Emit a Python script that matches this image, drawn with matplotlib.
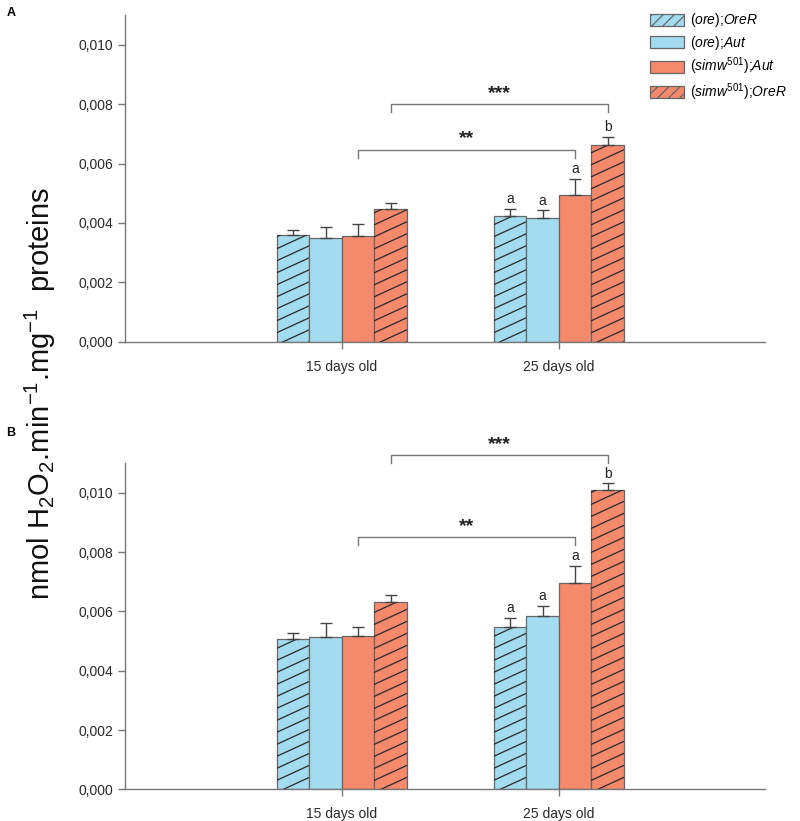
import numpy as np
import matplotlib
matplotlib.use("Agg")
import matplotlib.pyplot as plt
from matplotlib.patches import Patch
from matplotlib.lines import Line2D

plt.rcParams["font.family"] = ["Liberation Sans", "DejaVu Sans"]
plt.rcParams["mathtext.fontset"] = "custom"
plt.rcParams["mathtext.rm"] = "Liberation Sans"
plt.rcParams["mathtext.it"] = "Liberation Sans:italic"
plt.rcParams["hatch.linewidth"] = 0.9

# ---- data ----
ages = ["15 days old", "25 days old"]
series = [
    r"($\it{ore}$);$\it{OreR}$",
    r"($\it{ore}$);$\it{Aut}$",
    r"($\it{simw}^{\it{501}}$);$\it{Aut}$",
    r"($\it{simw}^{\it{501}}$);$\it{OreR}$",
]

# panel A: one list per genotype, values for 15 and 25 days
a_ore_orer = [0.00360, 0.00424]
a_ore_aut = [0.00350, 0.00416]
a_simw_aut = [0.00355, 0.00495]
a_simw_orer = [0.00448, 0.00663]
a_err = [[0.00015, 0.00023], [0.00035, 0.00026], [0.00040, 0.00053], [0.00019, 0.00026]]

# panel B
b_ore_orer = [0.00506, 0.00546]
b_ore_aut = [0.00513, 0.00585]
b_simw_aut = [0.00516, 0.00697]
b_simw_orer = [0.00633, 0.01009]
b_err = [[0.00022, 0.00033], [0.00049, 0.00034], [0.00032, 0.00058], [0.00023, 0.00023]]

# letters above 25-day bars
letters = ["a", "a", "a", "b"]

# significance brackets: (series index, height, label)
a_brackets = [(2, 0.00647, "**"), (3, 0.00800, "***")]
b_brackets = [(2, 0.00850, "**"), (3, 0.01127, "***")]

BLUE = "#a3dbef"
ORANGE = "#f4896b"
colors = [BLUE, BLUE, ORANGE, ORANGE]
hatched = [True, False, False, True]
EDGE = "#666666"
AXIS = "#777777"

bar_w = 0.15
centers = np.array([1.0, 2.0])


def add_hatch(ax, rect, spacing=12.0, slope=0.46):
    # shallow diagonal hatch drawn in pixel space, clipped to the bar
    x0, y0 = rect.get_x(), rect.get_y()
    x1, y1 = x0 + rect.get_width(), y0 + rect.get_height()
    (px0, py0), (px1, py1) = ax.transData.transform([(x0, y0), (x1, y1)])
    w = px1 - px0
    inv = ax.transData.inverted()
    c = -slope * w
    while c < (py1 - py0) + spacing:
        p = inv.transform([(px0, py0 + c), (px1, py0 + c + slope * w)])
        ln = Line2D(p[:, 0], p[:, 1], color="#2a2a2a", lw=0.9, zorder=2.5)
        ax.add_line(ln)
        ln.set_clip_path(rect)  # after add_line, which would reset it
        c += spacing


def draw_panel(ax, values, errs, brackets):
    ax.set_xlim(0, 2.95)
    ax.set_ylim(0, 0.011)
    for i, vals in enumerate(values):
        xs = centers + (i - 1.5) * bar_w
        bars = ax.bar(xs, vals, bar_w, color=colors[i], edgecolor=EDGE,
                      linewidth=0.9, zorder=2)
        ax.errorbar(xs, vals, yerr=[[0, 0], errs[i]], fmt="none",
                    ecolor="#444444", elinewidth=1.0, capsize=4,
                    capthick=1.0, zorder=3)
        if hatched[i]:
            for b in bars:
                add_hatch(ax, b)
        ax.annotate(letters[i], (xs[1], vals[1] + errs[i][1]),
                    xytext=(0, 2), textcoords="offset points",
                    ha="center", va="bottom", fontsize=10, color="#222222")
    tick_h = 0.00027
    for idx, h, lab in brackets:
        xl = centers[0] + (idx - 1.5) * bar_w
        xr = centers[1] + (idx - 1.5) * bar_w
        ax.plot([xl, xl, xr, xr], [h - tick_h, h, h, h - tick_h],
                color=AXIS, lw=1.0, clip_on=False)
        ax.text((xl + xr) / 2, h + 0.00008, lab, ha="center", va="bottom",
                fontsize=14, fontweight="bold", color="#222222")

    ticks = np.arange(0, 0.0101, 0.002)
    ax.set_yticks(ticks)
    ax.set_yticklabels([f"{v:.3f}".replace(".", ",") for v in ticks])
    ax.set_xticks(centers)
    ax.set_xticklabels(ages)
    for s in ["top", "right"]:
        ax.spines[s].set_visible(False)
    for s in ["left", "bottom"]:
        ax.spines[s].set_color(AXIS)
        ax.spines[s].set_linewidth(1.0)
    ax.tick_params(axis="both", colors=AXIS, labelcolor="#2a2a2a",
                   labelsize=10, length=5, width=1.0, direction="out")
    ax.tick_params(axis="x", pad=8)


fig = plt.figure(figsize=(8, 8.21), dpi=100)
ax_a = fig.add_axes([0.15625, 0.5838, 0.8, 0.3979])
ax_b = fig.add_axes([0.15625, 0.0386, 0.8, 0.3971])

draw_panel(ax_a, [a_ore_orer, a_ore_aut, a_simw_aut, a_simw_orer], a_err, a_brackets)
draw_panel(ax_b, [b_ore_orer, b_ore_aut, b_simw_aut, b_simw_orer], b_err, b_brackets)

handles = [Patch(facecolor=colors[i], edgecolor=EDGE, linewidth=0.9,
                 hatch="///" if hatched[i] else None) for i in range(4)]
fig.legend(handles, series, loc="upper left", bbox_to_anchor=(0.812, 0.986),
           frameon=False, fontsize=10, handlelength=2.5, handleheight=0.95,
           handletextpad=0.4, labelspacing=0.3, borderpad=0, borderaxespad=0)

fig.text(0.05, 0.521, r"nmol H$_2$O$_2$.min$^{-1}$.mg$^{-1}$  proteins",
         rotation=90, ha="center", va="center", fontsize=21, color="#111111")
fig.text(0.008, 0.992, "A", fontsize=9, fontweight="bold", va="top")
fig.text(0.008, 0.48, "B", fontsize=9, fontweight="bold", va="top")

fig.savefig("out.png", dpi=100)
